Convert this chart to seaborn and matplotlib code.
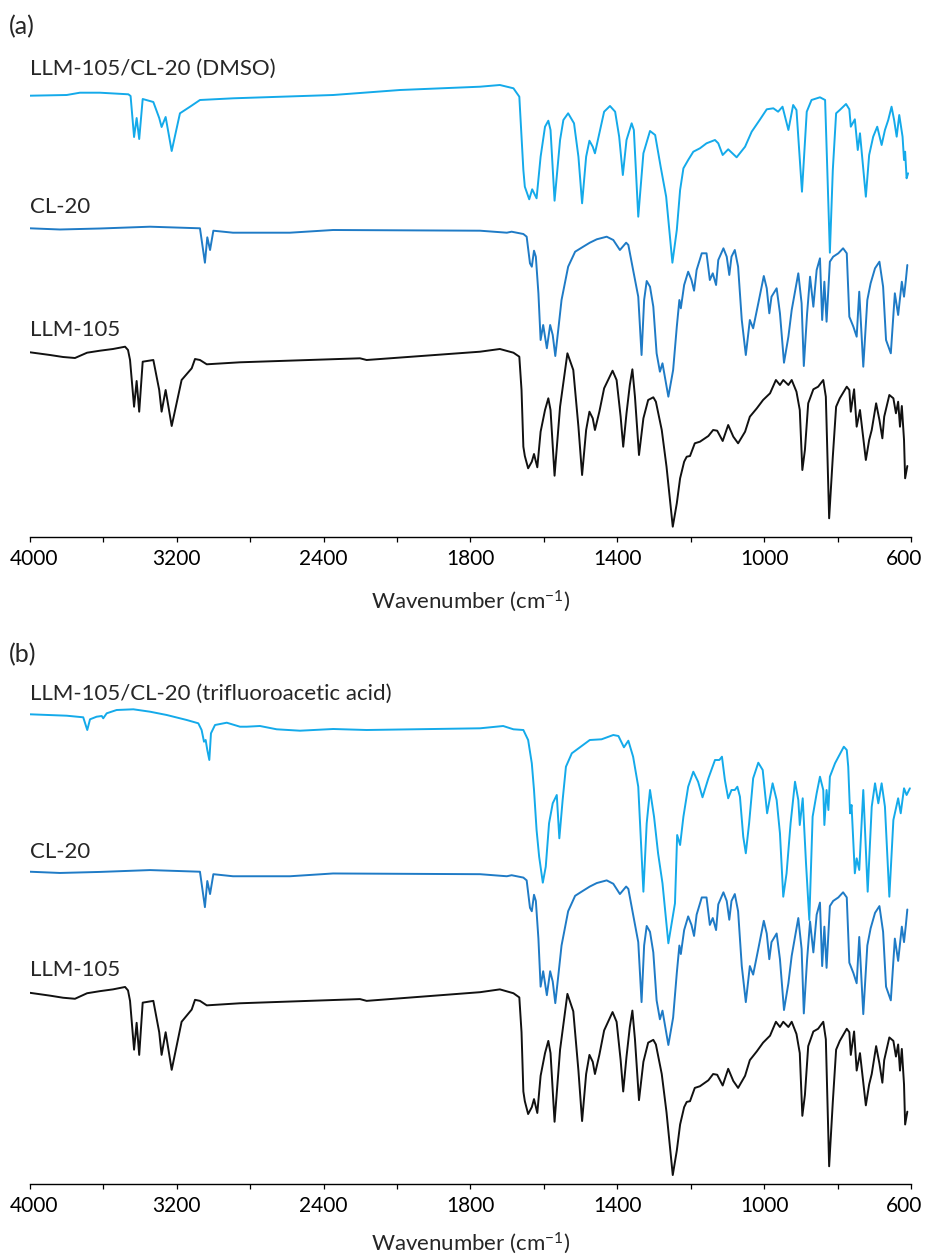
import numpy as np
import pandas as pd
import matplotlib
matplotlib.use("Agg")
import matplotlib.pyplot as plt
import matplotlib.transforms as mtransforms
import seaborn as sns

sns.set_theme(style="white")
plt.rcParams["font.family"] = ["Lato", "DejaVu Sans"]
plt.rcParams["mathtext.fontset"] = "custom"
plt.rcParams["mathtext.rm"] = "Lato"
plt.rcParams["mathtext.it"] = "Lato:italic"

# ---------------- data: (wavenumber cm-1, transmittance a.u.) ----------------
LLM105 = [(4000,206.2),(3891,203.5),(3820,201.5),(3755,200.5),(3689,205.8),(3619,207.8),(3548,209.5),
          (3482,211.8),(3466,208.5),(3455,198.5),(3433,151.8),(3419,177.5),(3405,146.8),(3386,196.8),
          (3328,198.5),(3296,168.5),(3283,146.8),(3261,168.5),(3228,132.5),(3174,178.5),(3119,190.2),
          (3101,199.5),(3074,198.5),(3037,194.2),(2856,196.2),(2202,200.2),(2166,198.5),(1774,206.8),
          (1720,209.5),(1683,205.8),(1667,201.8),(1661,168.5),(1656,111.8),(1652,102.5),(1643,90.2),
          (1633,96.8),(1627,104.5),(1618,91.2),(1609,126.8),(1597,148.5),(1588,160.2),(1582,148.5),
          (1571,82.8),(1556,151.8),(1536,205.2),(1520,188.5),(1506,131.8),(1496,83.5),(1485,128.5),
          (1476,146.8),(1467,140.2),(1461,128.5),(1449,146.8),(1436,170.2),(1413,187.8),(1402,178.5),
          (1391,141.8),(1384,111.8),(1375,145.2),(1366,173.5),(1359,189.2),(1352,161.8),(1341,103.5),
          (1329,140.2),(1316,158.5),(1302,161.2),(1295,156.8),(1279,128.5),(1266,91.8),(1249,31.8),
          (1238,55.2),(1229,80.2),(1218,96.8),(1211,101.8),(1202,102.5),(1189,115.2),(1175,116.8),
          (1152,122.5),(1139,128.5),(1128,127.8),(1113,117.5),(1098,133.5),(1084,121.8),(1071,115.2),
          (1052,126.8),(1039,141.8),(1020,150.2),(1003,158.5),(984,165.2),(968,178.5),(957,173.5),
          (948,178.5),(934,173.5),(925,178.5),(912,166.8),(903,148.5),(896,88.5),(889,108.5),
          (880,155.2),(866,169.2),(853,171.8),(839,178.5),(832,161.8),(823,40.2),(813,101.8),
          (804,151.8),(794,160.2),(775,171.8),(768,168.5),(764,146.8),(755,169.2),(748,131.8),
          (739,148.5),(723,98.5),(714,118.5),(707,128.5),(695,155.2),(686,138.5),(678,120.2),
          (673,141.8),(659,163.5),(648,160.2),(641,145.2),(635,156.8),(630,131.8),(625,152.5),
          (619,118.5),(616,80.2),(610,92.5)]

CL20 = [(4000,330.2),(3837,329.0),(3619,330.0),(3346,331.8),(3074,330.2),(3047,295.8),(3034,321.2),
        (3019,308.5),(3001,327.8),(2894,325.8),(2584,325.8),(2349,328.5),(1774,327.8),(1701,325.8),
        (1688,326.8),(1656,324.5),(1647,321.8),(1638,295.2),(1633,291.8),(1627,307.8),(1622,301.8),
        (1615,265.2),(1609,218.5),(1602,233.5),(1592,210.2),(1583,233.5),(1576,223.5),(1569,202.5),
        (1561,228.5),(1552,258.5),(1534,291.8),(1515,306.8),(1493,311.8),(1475,315.8),(1456,319.2),
        (1429,321.8),(1411,318.5),(1393,308.5),(1376,315.8),(1370,313.5),(1357,288.5),(1343,261.8),
        (1334,203.5),(1327,258.5),(1320,277.5),(1311,271.8),(1302,251.8),(1293,205.2),(1284,186.8),
        (1277,195.2),(1261,161.8),(1248,188.5),(1238,231.8),(1231,258.5),(1227,250.2),(1218,273.5),
        (1207,286.8),(1198,278.5),(1191,267.8),(1184,288.5),(1170,305.2),(1157,305.2),(1148,278.5),
        (1140,285.2),(1131,273.5),(1125,298.5),(1111,310.2),(1102,301.8),(1095,283.5),(1089,301.8),
        (1080,308.5),(1071,291.8),(1061,238.5),(1050,203.5),(1039,238.5),(1030,230.2),(1016,255.2),
        (1001,282.5),(993,270.2),(986,245.2),(980,261.8),(966,270.2),(957,245.2),(946,195.8),
        (934,221.8),(925,248.5),(907,285.2),(898,255.2),(892,192.5),(883,245.2),(875,281.8),
        (866,251.8),(857,288.5),(848,300.2),(842,238.5),(836,276.8),(830,236.8),(821,296.8),
        (812,301.8),(798,305.2),(785,310.2),(775,305.2),(768,241.8),(757,231.8),(748,221.8),
        (741,266.8),(730,191.8),(719,258.5),(710,275.2),(698,290.2),(686,296.8),(676,271.8),
        (668,218.5),(655,205.2),(644,265.2),(635,243.5),(625,276.8),(619,261.8),(614,278.5),(610,293.5)]

MIX_DMSO = [(4000,462.8),(3800,463.5),(3728,465.8),(3619,465.8),(3464,464.2),(3452,462.5),(3433,421.5),
            (3419,440.5),(3405,419.5),(3386,459.5),(3328,456.5),(3296,440.5),(3283,431.5),(3261,441.5),
            (3228,407.5),(3183,445.2),(3128,451.8),(3074,458.5),(2892,460.2),(2348,463.5),(1992,468.5),
            (1774,471.8),(1720,473.5),(1683,470.2),(1667,461.8),(1661,421.8),(1656,388.5),(1652,371.8),
            (1640,359.2),(1632,369.2),(1620,360.2),(1609,401.8),(1597,431.8),(1588,437.8),(1582,428.5),
            (1571,357.8),(1556,418.5),(1547,438.5),(1534,445.2),(1518,435.2),(1506,401.8),(1496,355.2),
            (1485,401.8),(1476,417.8),(1467,411.8),(1461,405.2),(1449,425.2),(1436,446.8),(1420,452.5),
            (1406,446.8),(1395,421.8),(1385,383.5),(1375,418.5),(1361,435.2),(1355,428.5),(1343,341.8),
            (1329,405.2),(1311,427.5),(1297,423.5),(1282,391.8),(1267,361.8),(1250,295.8),(1238,328.5),
            (1229,368.5),(1220,390.2),(1207,398.5),(1193,406.8),(1175,410.2),(1157,415.2),(1134,418.5),
            (1125,415.2),(1113,403.5),(1098,409.2),(1075,401.2),(1052,411.8),(1034,426.8),(1011,439.2),
            (993,449.2),(975,450.2),(962,446.8),(950,451.8),(934,428.5),(921,453.5),(912,448.5),
            (897,366.8),(884,446.8),(871,458.5),(848,461.2),(834,458.5),(828,388.5),(821,305.8),
            (813,388.5),(804,445.2),(794,448.5),(777,454.5),(768,449.2),(764,431.8),(753,439.2),
            (745,408.5),(739,425.2),(723,361.8),(714,403.5),(703,421.8),(692,431.8),(680,413.5),
            (671,428.5),(662,438.5),(653,451.8),(646,438.5),(639,421.8),(632,443.5),(623,421.8),
            (619,398.5),(616,406.8),(612,380.2),(608,385.2)]

MIX_TFA = [(4000,481.2),(3800,479.8),(3710,478.2),(3688,465.5),(3673,476.2),(3637,478.8),(3609,479.5),
           (3601,477.2),(3582,482.2),(3528,485.5),(3437,486.2),(3346,483.8),(3255,480.5),(3146,475.5),
           (3083,472.2),(3065,465.5),(3052,453.8),(3043,455.5),(3034,445.5),(3023,435.5),(3014,462.2),
           (2992,470.5),(2928,472.8),(2856,468.8),(2819,468.8),(2747,469.5),(2656,466.2),(2529,464.8),
           (2348,466.5),(2166,465.5),(1774,467.2),(1711,469.5),(1683,466.2),(1656,465.5),(1643,455.5),
           (1633,432.2),(1627,405.5),(1620,365.5),(1613,338.8),(1603,312.8),(1595,328.8),(1586,372.2),
           (1576,392.2),(1565,400.5),(1558,357.2),(1549,395.5),(1540,428.8),(1524,442.2),(1502,448.2),
           (1475,455.5),(1443,456.2),(1411,460.5),(1397,459.5),(1382,448.2),(1370,454.8),(1357,438.8),
           (1343,408.8),(1329,303.8),(1320,372.2),(1311,405.5),(1300,378.8),(1289,342.2),(1277,312.2),
           (1261,252.2),(1243,292.2),(1237,360.5),(1229,350.5),(1220,378.8),(1207,408.8),(1193,423.8),
           (1180,413.8),(1168,398.2),(1152,417.2),(1134,435.5),(1122,435.5),(1115,438.8),(1107,415.5),
           (1098,397.2),(1089,405.5),(1080,405.5),(1073,408.8),(1066,398.8),(1057,358.8),(1050,342.2),
           (1041,372.2),(1030,417.2),(1016,432.8),(1004,425.5),(992,382.2),(977,412.2),(966,395.5),
           (957,362.2),(948,298.8),(939,322.2),(928,372.2),(916,413.8),(907,395.5),(903,370.5),
           (895,397.2),(886,332.2),(877,275.5),(868,378.8),(857,402.2),(848,418.8),(839,405.5),
           (836,370.5),(830,405.5),(825,385.5),(821,418.8),(807,432.2),(795,440.5),(783,448.8),
           (775,445.5),(771,428.8),(766,382.2),(762,390.5),(753,322.2),(748,337.2),(741,325.5),
           (730,405.5),(718,303.8),(707,388.8),(698,412.2),(689,392.2),(680,412.2),(671,388.8),
           (659,298.8),(648,375.5),(635,397.2),(628,382.2),(619,407.2),(612,400.5),(603,407.2)]

MAJOR_TICKS = [4000, 3200, 2400, 1800, 1400, 1000, 600]
MINOR_TICKS = [3600, 2800, 2000, 1600, 1200, 800]
XLABEL = r"Wavenumber (cm$^{\mathregular{-1}}$)"

C_MIX = "#14aaea"
C_CL20 = "#1f7bc6"
C_LLM = "#111111"

# --------------- x scale: 4000-2000 compressed by 2 (FTIR style) ---------------
def fwd(x):
    x = np.asarray(x, dtype=float)
    return np.where(x > 2000, 2000 + (x - 2000) / 2.0, x)

def inv(e):
    e = np.asarray(e, dtype=float)
    return np.where(e > 2000, 2000 + 2.0 * (e - 2000), e)

W, H = 925, 1258
fig = plt.figure(figsize=(W / 100, H / 100), dpi=100)

def make_axes(top_px, spine_px, ylim):
    ax = fig.add_axes([30 / W, 1 - spine_px / H, 881 / W, (spine_px - top_px) / H])
    ax.set_xscale("function", functions=(fwd, inv))
    ax.set_xlim(4000, 600)
    ax.set_ylim(*ylim)
    for s in ("left", "right", "top"):
        ax.spines[s].set_visible(False)
    ax.spines["bottom"].set_color("black")
    ax.spines["bottom"].set_linewidth(1.0)
    ax.set_yticks([])
    ax.set_xticks(MAJOR_TICKS)
    ax.set_xticklabels([str(t) for t in MAJOR_TICKS])
    ax.set_xticks(MINOR_TICKS, minor=True)
    ax.tick_params(axis="x", which="both", direction="out", length=3.4, width=0.9,
                   colors="black", bottom=True, labelsize=15, pad=5)
    labels = ax.get_xticklabels()
    labels[0].set_transform(labels[0].get_transform() +
                            mtransforms.ScaledTranslation(4 / 100, 0, fig.dpi_scale_trans))
    labels[-1].set_transform(labels[-1].get_transform() +
                             mtransforms.ScaledTranslation(-7 / 100, 0, fig.dpi_scale_trans))
    ax.grid(False)
    return ax

def draw(ax, series, color, scale=1.0, shift=0.0):
    df = pd.DataFrame(series, columns=["wn", "t"])
    df["y"] = df["t"] * scale + shift
    sns.lineplot(data=df, x="wn", y="y", ax=ax, color=color, lw=1.4,
                 estimator=None, sort=False, legend=False)
    ax.set_xlabel("")
    ax.set_ylabel("")

# ---------------- panel (a) ----------------
axa = make_axes(40, 537.3, (21.2, 518.5))
draw(axa, MIX_DMSO, C_MIX)
draw(axa, CL20, C_CL20)
draw(axa, LLM105, C_LLM)
axa.text(4000, 489.5, "LLM-105/CL-20 (DMSO)", ha="left", va="center", fontsize=16)
axa.text(4000, 351.5, "CL-20", ha="left", va="center", fontsize=16)
axa.text(4000, 228.5, "LLM-105", ha="left", va="center", fontsize=16)

# ---------------- panel (b) ----------------
axb = make_axes(680, 1184.3, (11.2, 515.5))
draw(axb, MIX_TFA, C_MIX)
draw(axb, CL20, C_CL20, scale=1.029, shift=-16.0)
draw(axb, LLM105, C_LLM, scale=1.045, shift=-12.8)
axb.text(4000, 501.5, "LLM-105/CL-20 (trifluoroacetic acid)", ha="left", va="center", fontsize=16)
axb.text(4000, 343.5, "CL-20", ha="left", va="center", fontsize=16)
axb.text(4000, 225.5, "LLM-105", ha="left", va="center", fontsize=16)

fig.text(9 / W, 1 - 27 / H, "(a)", ha="left", va="center", fontsize=18)
fig.text(9 / W, 1 - 655 / H, "(b)", ha="left", va="center", fontsize=18)
fig.text(470.5 / W, 1 - 601 / H, XLABEL, ha="center", va="center", fontsize=16)
fig.text(470.5 / W, 1 - 1243.5 / H, XLABEL, ha="center", va="center", fontsize=16)

fig.savefig("out.png", dpi=100, facecolor="white")
